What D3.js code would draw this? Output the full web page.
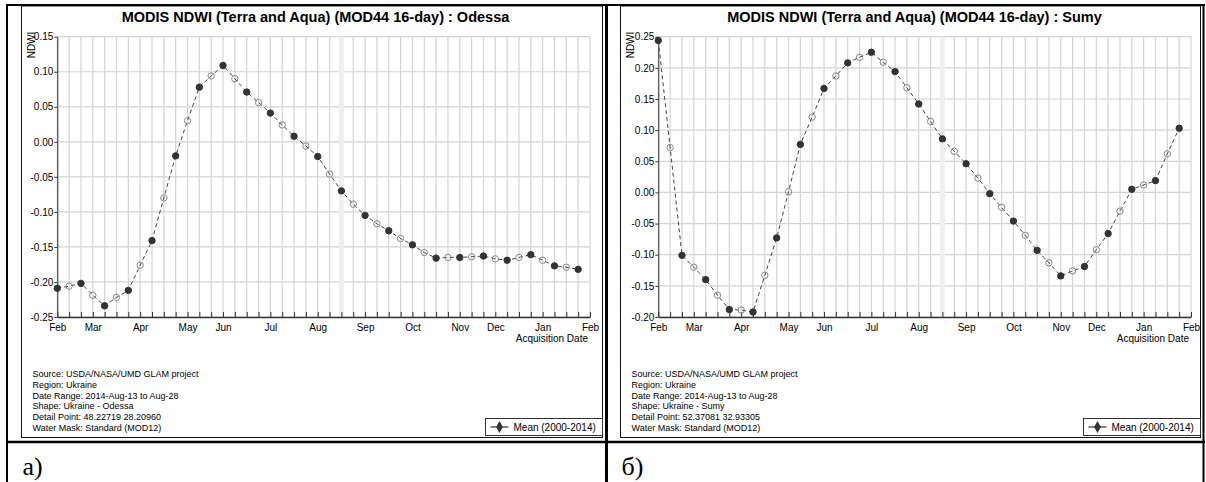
<!DOCTYPE html>
<html lang="en">
<head>
<meta charset="UTF-8">
<title>MODIS NDWI - Odessa / Sumy</title>
<script src="https://d3js.org/d3.v7.min.js"></script>
<style>
  body { margin: 0; background: #fff; }
  svg text { font-family: "Liberation Sans", Arial, sans-serif; }
</style>
</head>
<body>
<svg id="fig" width="1206" height="482"></svg>
<script>
// 8-day composite periods from Feb to Jan (index 0..44), axis ends at 45
const monthLabels  = ["Feb", "Mar", "Apr", "May", "Jun", "Jul", "Aug", "Sep", "Oct", "Nov", "Dec", "Jan", "Feb"];
const monthPeriods = [0, 3, 7, 11, 14, 18, 22, 26, 30, 34, 37, 41, 45];
const currentPeriod = 24; // Aug-13 to Aug-28

const odessaNdwi = [
  -0.209, -0.206, -0.202, -0.219, -0.234, -0.222, -0.212, -0.176, -0.141, -0.080,
  -0.020, 0.030, 0.078, 0.094, 0.109, 0.090, 0.071, 0.056, 0.041, 0.024,
  0.008, -0.006, -0.021, -0.046, -0.070, -0.089, -0.105, -0.117, -0.127, -0.138,
  -0.147, -0.158, -0.166, -0.165, -0.165, -0.164, -0.163, -0.167, -0.169, -0.165,
  -0.161, -0.169, -0.177, -0.179, -0.182
];
const sumyNdwi = [
  0.244, 0.072, -0.101, -0.120, -0.140, -0.165, -0.188, -0.189, -0.192, -0.133,
  -0.073, 0.001, 0.077, 0.121, 0.167, 0.187, 0.208, 0.217, 0.225, 0.209,
  0.194, 0.168, 0.142, 0.114, 0.086, 0.066, 0.046, 0.023, -0.002, -0.024,
  -0.046, -0.069, -0.093, -0.113, -0.134, -0.126, -0.119, -0.092, -0.066, -0.030,
  0.005, 0.012, 0.019, 0.062, 0.103
];

const odessaTicks = [-0.25, -0.20, -0.15, -0.10, -0.05, 0.00, 0.05, 0.10, 0.15];
const sumyTicks   = [-0.20, -0.15, -0.10, -0.05, 0.00, 0.05, 0.10, 0.15, 0.20, 0.25];

const odessaInfo = [
  "Source: USDA/NASA/UMD GLAM project",
  "Region: Ukraine",
  "Date Range: 2014-Aug-13 to Aug-28",
  "Shape: Ukraine - Odessa",
  "Detail Point: 48.22719 28.20960",
  "Water Mask: Standard (MOD12)"
];
const sumyInfo = [
  "Source: USDA/NASA/UMD GLAM project",
  "Region: Ukraine",
  "Date Range: 2014-Aug-13 to Aug-28",
  "Shape: Ukraine - Sumy",
  "Detail Point: 52.37081 32.93305",
  "Water Mask: Standard (MOD12)"
];

const legendLabel = "Mean (2000-2014)";

const panels = [
  { box: [21.5, 602.5], plot: [57.3, 590], values: odessaNdwi, ticks: odessaTicks,
    title: "MODIS NDWI (Terra and Aqua) (MOD44 16-day) : Odessa", info: odessaInfo, tag: "a)" },
  { box: [620.5, 1200.5], plot: [658.3, 1191], values: sumyNdwi, ticks: sumyTicks,
    title: "MODIS NDWI (Terra and Aqua) (MOD44 16-day) : Sumy", info: sumyInfo, tag: "б)" }
];

const svg = d3.select("#fig");
const plotTop = 36.7, plotBottom = 317;
const fmt = v => (Math.abs(v) < 1e-9 ? 0 : v).toFixed(2);

function drawPanel(p) {
  const g = svg.append("g");

  // chart frame
  g.append("rect")
    .attr("x", p.box[0]).attr("y", 6)
    .attr("width", p.box[1] - p.box[0]).attr("height", 431.5)
    .attr("fill", "#fff").attr("stroke", "#111").attr("stroke-width", 1);

  const x = d3.scaleLinear().domain([0, 45]).range(p.plot);
  const y = d3.scaleLinear().domain(d3.extent(p.ticks)).range([plotBottom, plotTop]);

  // grid
  g.append("g").selectAll("line").data(d3.range(46)).join("line")
    .attr("x1", d => x(d)).attr("x2", d => x(d))
    .attr("y1", plotTop).attr("y2", plotBottom)
    .attr("stroke", "#d4d4d4").attr("stroke-width", 1.2);
  g.append("g").selectAll("line").data(p.ticks).join("line")
    .attr("x1", p.plot[0]).attr("x2", p.plot[1])
    .attr("y1", d => y(d)).attr("y2", d => y(d))
    .attr("stroke", "#d4d4d4").attr("stroke-width", 1.2);

  // current period band
  g.append("rect")
    .attr("x", x(currentPeriod) - 2.5).attr("y", plotTop)
    .attr("width", 5).attr("height", plotBottom - plotTop)
    .attr("fill", "#efefef");

  // y axis
  g.append("g")
    .attr("transform", `translate(${p.plot[0]},0)`)
    .call(d3.axisLeft(y).tickValues(p.ticks).tickFormat(fmt).tickSizeInner(3).tickSizeOuter(0).tickPadding(1))
    .call(a => {
      a.attr("font-family", null).attr("font-size", 10);
      a.select(".domain").attr("stroke", "#333");
      a.selectAll(".tick line").attr("stroke", "#333");
      a.selectAll("text").attr("fill", "#000");
    });

  // x axis: tick at every period, inside
  g.append("g")
    .attr("transform", `translate(0,${plotBottom})`)
    .call(d3.axisBottom(x).tickValues(d3.range(46)).tickFormat("").tickSizeInner(-5).tickSizeOuter(0))
    .call(a => {
      a.select(".domain").attr("stroke", "#333").attr("stroke-width", 1.4);
      a.selectAll(".tick line").attr("stroke", "#333");
    });

  // month labels
  g.append("g")
    .attr("transform", `translate(0,${plotBottom})`)
    .call(d3.axisBottom(x).tickValues(monthPeriods).tickFormat((d, i) => monthLabels[i]).tickSize(0).tickPadding(7))
    .call(a => {
      a.attr("font-family", null).attr("font-size", 10);
      a.select(".domain").remove();
      a.selectAll("text").attr("fill", "#000");
    });

  g.append("text")
    .attr("x", p.plot[1] - 2).attr("y", 342)
    .attr("text-anchor", "end").attr("font-size", 10)
    .text("Acquisition Date");

  g.append("text")
    .attr("transform", `translate(${p.box[0] + 13},45) rotate(-90)`)
    .attr("text-anchor", "middle").attr("font-size", 10)
    .text("NDWI");

  // title
  g.append("text")
    .attr("x", p.box[0] + 294).attr("y", 21.5)
    .attr("text-anchor", "middle").attr("font-size", 14.5).attr("font-weight", "bold")
    .text(p.title);

  // series
  const line = d3.line().x((d, i) => x(i)).y(d => y(d));
  g.append("path")
    .datum(p.values)
    .attr("d", line)
    .attr("fill", "none").attr("stroke", "#444")
    .attr("stroke-width", 1).attr("stroke-dasharray", "4,3");

  g.append("g").selectAll("circle").data(p.values).join("circle")
    .attr("cx", (d, i) => x(i)).attr("cy", d => y(d))
    .attr("r", 3.2)
    .attr("fill", (d, i) => i % 2 === 0 ? "#333" : "none")
    .attr("stroke", (d, i) => i % 2 === 0 ? "#333" : "#888")
    .attr("stroke-width", 1);

  // info text
  g.append("g").selectAll("text").data(p.info).join("text")
    .attr("x", p.box[0] + 11).attr("y", (d, i) => 377 + i * 10.8)
    .attr("font-size", 9)
    .text(d => d);

  // legend
  const lx = p.box[1] - 117;
  const lg = g.append("g");
  lg.append("rect")
    .attr("x", lx).attr("y", 418.5).attr("width", 117).attr("height", 17)
    .attr("fill", "#fff").attr("stroke", "#333");
  lg.append("line")
    .attr("x1", lx + 5).attr("x2", lx + 23).attr("y1", 427).attr("y2", 427)
    .attr("stroke", "#333").attr("stroke-width", 1.2);
  lg.append("path")
    .attr("d", d3.symbol(d3.symbolDiamond, 40)())
    .attr("transform", `translate(${lx + 14},427)`)
    .attr("fill", "#333");
  lg.append("text")
    .attr("x", lx + 28).attr("y", 430.5).attr("font-size", 10)
    .text(legendLabel);

  // caption under the chart
  svg.append("text")
    .attr("x", p.box[0] + 1).attr("y", 475)
    .style("font-family", "'Liberation Serif', 'Times New Roman', serif")
    .attr("font-size", 26)
    .text(p.tag);
}

panels.forEach(drawPanel);

// table borders
const borders = svg.append("g").attr("stroke", "#000");
borders.append("line").attr("x1", 6).attr("x2", 1205).attr("y1", 5).attr("y2", 5).attr("stroke-width", 2);
borders.append("line").attr("x1", 6).attr("x2", 1205).attr("y1", 442).attr("y2", 442).attr("stroke-width", 2.5);
borders.append("line").attr("x1", 7).attr("x2", 7).attr("y1", 4).attr("y2", 482).attr("stroke-width", 2);
borders.append("line").attr("x1", 606.5).attr("x2", 606.5).attr("y1", 4).attr("y2", 482).attr("stroke-width", 3);
borders.append("line").attr("x1", 1203.5).attr("x2", 1203.5).attr("y1", 4).attr("y2", 482).attr("stroke-width", 2);
</script>
</body>
</html>
